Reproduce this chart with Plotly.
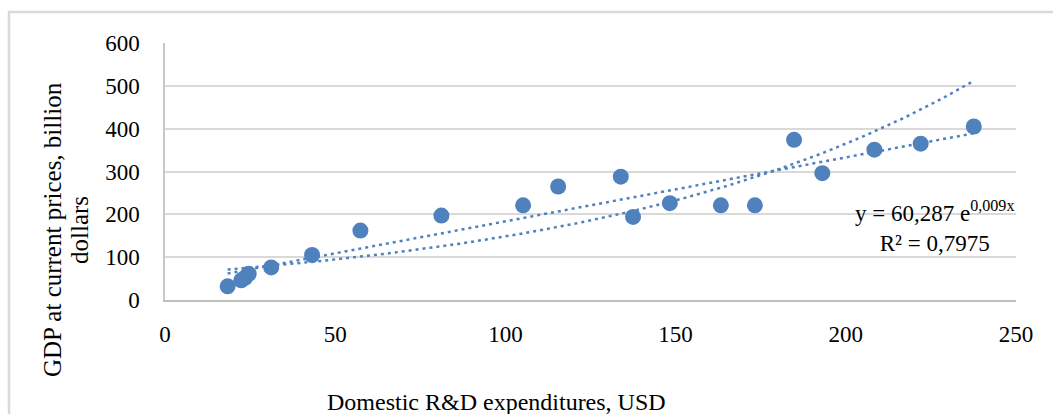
import numpy as np
import plotly.graph_objects as go

# Data
rd_expenditures = [18.4, 22.4, 23.5, 24.6, 31.2, 43.2, 57.4, 81.2, 105.2, 115.5,
                   133.9, 137.5, 148.3, 163.3, 173.3, 184.8, 193.1, 208.4, 222.0, 237.6]
gdp_values = [32, 46, 52, 61, 76, 105, 162, 197, 221, 265,
              288, 194, 226, 221, 221, 374, 296, 351, 365, 405]

# Exponential trend coefficients as printed on the chart
exp_a = 60.287
exp_b = 0.009
r_squared_text = "0,7975"

x_ticks = [0, 50, 100, 150, 200, 250]
y_ticks = [0, 100, 200, 300, 400, 500, 600]

x_title = "Domestic R&D expenditures, USD"
y_title_lines = ["GDP at current prices, billion", "dollars"]

BLUE = "#4F81BD"
FONT = "Liberation Serif"

x_arr = np.array(rd_expenditures)
y_arr = np.array(gdp_values)

# Linear trend (least squares over the data)
slope, intercept = np.polyfit(x_arr, y_arr, 1)
trend_x = np.linspace(x_arr.min(), x_arr.max(), 200)
lin_y = slope * trend_x + intercept
exp_y = exp_a * np.exp(exp_b * trend_x)

fig = go.Figure()
fig.add_trace(go.Scatter(x=trend_x, y=lin_y, mode="lines",
                         line=dict(color=BLUE, width=2.5, dash="3px,4px"),
                         hoverinfo="skip", showlegend=False))
fig.add_trace(go.Scatter(x=trend_x, y=exp_y, mode="lines",
                         line=dict(color=BLUE, width=2.5, dash="3px,4px"),
                         hoverinfo="skip", showlegend=False))
fig.add_trace(go.Scatter(x=rd_expenditures, y=gdp_values, mode="markers",
                         marker=dict(color=BLUE, size=16, line=dict(width=0)),
                         showlegend=False))

W, H = 1053, 414
L, R, T, B = 165, 37, 43, 114
pw, ph = W - L - R, H - T - B

def px_to_paper_x(px):
    return (px - L) / pw

def px_to_paper_y(py):
    return (H - B - py) / ph

annotations = []
for line_text, cx in zip(y_title_lines, [52, 79]):
    annotations.append(dict(text=line_text, xref="paper", yref="paper",
                            x=px_to_paper_x(cx), y=px_to_paper_y(230), textangle=-90,
                            xanchor="center", yanchor="middle", showarrow=False,
                            font=dict(family=FONT, size=25, color="black")))
annotations.append(dict(text=x_title, xref="paper", yref="paper",
                        x=px_to_paper_x(496), y=px_to_paper_y(402),
                        xanchor="center", yanchor="middle", showarrow=False,
                        font=dict(family=FONT, size=24, color="black")))
annotations.append(dict(
    text=f"y = {str(exp_a).replace('.', ',')} e<sup>{str(exp_b).replace('.', ',')}x</sup><br>R² = {r_squared_text}",
    xref="paper", yref="paper",
    x=px_to_paper_x(934), y=px_to_paper_y(226),
    xanchor="center", yanchor="middle", align="center", showarrow=False,
    font=dict(family=FONT, size=23, color="black")))

fig.update_layout(
    width=W, height=H,
    margin=dict(l=L, r=R, t=T, b=B),
    paper_bgcolor="white", plot_bgcolor="white",
    font=dict(family=FONT, size=22, color="black"),
    xaxis=dict(range=[0, 250], tickvals=x_ticks, showgrid=False, zeroline=False,
               showline=True, linecolor="#bfbfbf", linewidth=2,
               ticks="", ticklabelstandoff=12,
               tickfont=dict(family=FONT, size=23, color="black")),
    yaxis=dict(range=[0, 600], tickvals=y_ticks, showgrid=True, gridcolor="#d9d9d9",
               gridwidth=1.5, zeroline=False, showline=True, linecolor="#c8c8c8",
               linewidth=1.5, ticks="", ticklabelstandoff=19,
               tickfont=dict(family=FONT, size=23, color="black")),
    shapes=[dict(type="rect", xref="paper", yref="paper",
                 x0=px_to_paper_x(9), x1=px_to_paper_x(1080),
                 y0=px_to_paper_y(440), y1=px_to_paper_y(12),
                 line=dict(color="#d9d9d9", width=2.5), fillcolor="rgba(0,0,0,0)",
                 layer="below")],
    annotations=annotations,
)

fig.write_html("out.html", config={"displayModeBar": False},
               post_script="document.body.style.margin='0';document.body.style.overflow='hidden';")
